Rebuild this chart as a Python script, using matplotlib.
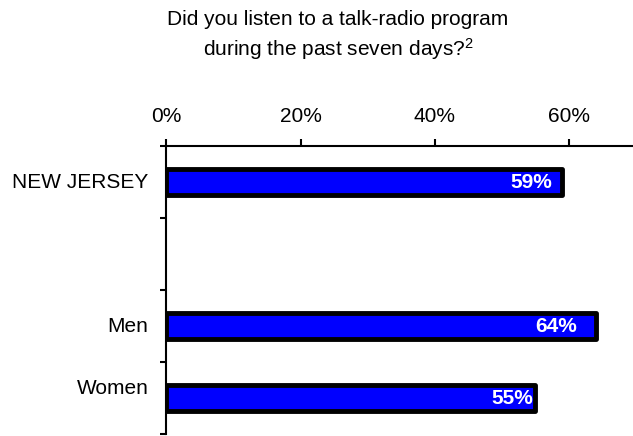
import matplotlib
matplotlib.use("Agg")
import matplotlib.pyplot as plt
from matplotlib.transforms import offset_copy

plt.rcParams["font.family"] = ["Liberation Sans", "DejaVu Sans"]
plt.rcParams["mathtext.fontset"] = "custom"
plt.rcParams["mathtext.rm"] = "Liberation Sans"
plt.rcParams["mathtext.it"] = "Liberation Sans"
plt.rcParams["mathtext.bf"] = "Liberation Sans:bold"

# Survey results (percent who listened to talk radio in the past week)
categories = ["NEW JERSEY", "", "Men", "Women"]
values = [59, None, 64, 55]
value_labels = ["59%", "", "64%", "55%"]
tick_values = [0, 20, 40, 60]
tick_labels = ["0%", "20%", "40%", "60%"]

title = "Did you listen to a talk-radio program\nduring the past seven days?$^{\\mathrm{2}}$"

PX = 72 / 100  # points per pixel at 100 dpi

fig = plt.figure(figsize=(6.33, 4.36), dpi=100)
ax = fig.add_axes([166.3 / 633, 2 / 436, 1 - 166.3 / 633, (434 - 146) / 436])

positions = list(range(len(categories)))
bar_pos = [p for p, v in zip(positions, values) if v is not None]
bar_val = [v for v in values if v is not None]

ax.barh(bar_pos, bar_val, height=0.37, color="#0000FF", edgecolor="black",
        linewidth=3.5, joinstyle="round", zorder=3)

# value labels inside the bar ends (pixel nudge of the right edge)
nudge_px = [-10, 0, -19, -2]
for p, v, lab, dx in zip(positions, values, value_labels, nudge_px):
    if v is None:
        continue
    tr = offset_copy(ax.transData, fig=fig, x=dx * PX, y=0, units="points")
    ax.text(v, p, lab, transform=tr, ha="right", va="center", color="white",
            fontsize=15, fontweight="bold", zorder=4)

ax.set_xlim(0, (633 - 166.3) / 6.71)
ax.set_ylim(len(categories) - 0.5, -0.5)

# top value axis
ax.xaxis.tick_top()
ax.set_xticks(tick_values)
ax.set_xticklabels(tick_labels, fontsize=15)
ax.tick_params(axis="x", direction="out", length=5, width=1.5, pad=9.5)

# category axis: ticks on slot boundaries, labels beside the bars
ax.set_yticks([p - 0.5 for p in positions] + [len(categories) - 0.5])
ax.set_yticklabels([])
ax.tick_params(axis="y", direction="out", length=4.5, width=1.5)
label_dy = [0, 0, 0, 10]
for p, name, dy in zip(positions, categories, label_dy):
    if not name:
        continue
    tr = offset_copy(ax.transData, fig=fig, x=-18 * PX, y=dy * PX, units="points")
    ax.text(0, p, name, transform=tr, ha="right", va="center", fontsize=15)

for side in ["right", "bottom"]:
    ax.spines[side].set_visible(False)
for side in ["top", "left"]:
    ax.spines[side].set_linewidth(1.5)

fig.text(338 / 633, 1 - 36 / 436, title, ha="center", va="center",
         fontsize=15, linespacing=1.32)

fig.savefig("out.png", dpi=100)
